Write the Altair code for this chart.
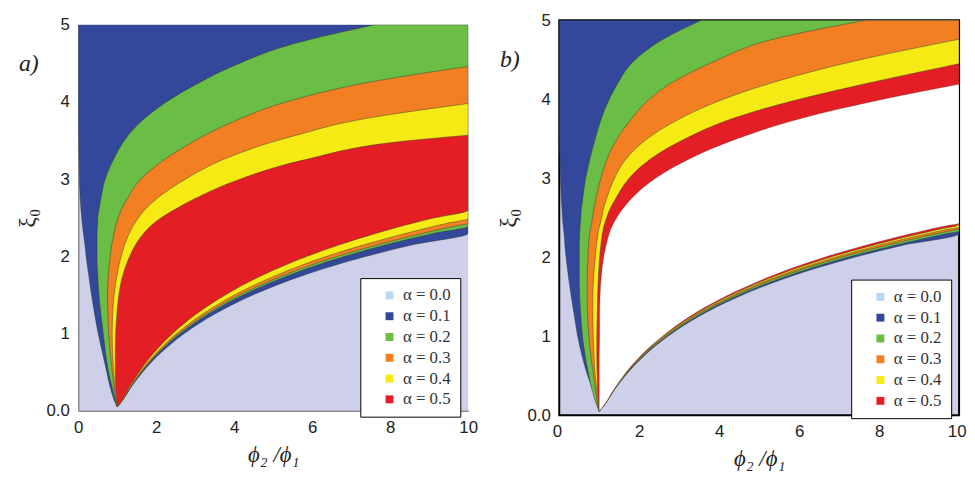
import altair as alt
import pandas as pd

LABELS = ["α = 0.0\u00a0\u00a0", "α = 0.1\u00a0\u00a0", "α = 0.2\u00a0\u00a0",
          "α = 0.3\u00a0\u00a0", "α = 0.4\u00a0\u00a0", "α = 0.5\u00a0\u00a0"]
SWATCH = ["#bdd7ee", "#33479b", "#6abd45", "#f28022", "#f5ea14", "#e31e24"]
LAVENDER = "#cdd0e8"

X_TICKS = [0, 2, 4, 6, 8, 10]
Y_TICKS = [0, 1, 2, 3, 4, 5]

# ---------------- panel a : boundary curves, x (phi2/phi1) at each xi0 level ----------------
Y_A = [0.05, 0.15, 0.3, 0.5, 0.75, 1.0, 1.25, 1.5, 1.75, 2.0, 2.15, 2.3, 2.39, 2.43,
       2.49, 2.6, 2.75, 3.0, 3.25, 3.5, 3.57, 3.75, 3.98, 4.25, 4.46, 4.75, 5.0]
L_A = [1.0, 0.91, 0.82, 0.73, 0.62, 0.51, 0.42, 0.34, 0.27, 0.2, 0.17, 0.13, 0.11, 0.1,
       0.09, 0.07, 0.05, 0.03, 0.02, 0.01, 0.008, 0.0, 0.0, 0.0, 0.0, 0.0, 0.0]
D1_A = [1.0, 1.16, 1.35, 1.65, 2.12, 2.72, 3.49, 4.48, 5.75, 7.39, 8.58, 10, 10, 10,
        10, 10, 10, 10, 10, 10, 10, 10, 10, 10, 10, 10, 10]
U1_A = [1.0, 0.94, 0.87, 0.78, 0.7, 0.64, 0.58, 0.53, 0.5, 0.48, 0.48, 0.48, 0.49, 0.5,
        0.5, 0.53, 0.58, 0.69, 0.9, 1.18, 1.28, 1.62, 2.2, 3.1, 3.95, 5.5, 7.6]
D2_A = [1.0, 1.155, 1.33, 1.62, 2.06, 2.62, 3.33, 4.23, 5.38, 6.84, 7.9, 9.13, 10, 10,
        10, 10, 10, 10, 10, 10, 10, 10, 10, 10, 10, 10, 10]
U2_A = [1.0, 0.96, 0.92, 0.87, 0.82, 0.78, 0.76, 0.75, 0.77, 0.82, 0.86, 0.92, 0.96, 0.98,
        1.02, 1.1, 1.26, 1.6, 2.2, 3.0, 3.25, 4.0, 5.2, 7.4, 10, None, None]
D3_A = [1.0, 1.15, 1.33, 1.61, 2.04, 2.58, 3.27, 4.14, 5.25, 6.65, 7.68, 8.85, 9.63, 10,
        10, 10, 10, 10, 10, 10, 10, 10, 10, 10, 10, 10, 10]
U3_A = [1.0, 0.97, 0.94, 0.91, 0.88, 0.87, 0.88, 0.92, 0.99, 1.1, 1.19, 1.31, 1.4, 1.45,
        1.53, 1.7, 2.02, 2.75, 3.7, 5.1, 5.6, 7.0, 10, None, None, None, None]
D4_A = [1.0, 1.15, 1.32, 1.59, 2.0, 2.52, 3.18, 4.01, 5.06, 6.37, 7.33, 8.42, 9.13, 9.47,
        10, 10, 10, 10, 10, 10, 10, 10, 10, 10, 10, 10, 10]
U4_A = [1.0, 0.98, 0.96, 0.95, 0.95, 0.96, 0.99, 1.04, 1.14, 1.32, 1.47, 1.68, 1.85, 1.94,
        2.1, 2.45, 3.0, 4.15, 5.8, 8.5, 10, None, None, None, None, None, None]
D5_A = [1.0, 1.14, 1.30, 1.56, 1.94, 2.42, 3.02, 3.77, 4.7, 5.87, 6.7, 7.65, 8.28, 8.58,
        9.06, 10, 10, 10, 10, 10, 10, 10, 10, 10, 10, 10, 10]

# ---------------- panel b ----------------
Y_B = [0.05, 0.15, 0.3, 0.5, 0.75, 1.0, 1.25, 1.5, 1.75, 2.0, 2.15, 2.3, 2.33, 2.36,
       2.38, 2.4, 2.43, 2.6, 2.75, 3.0, 3.25, 3.5, 3.75, 4.0, 4.19, 4.45, 4.76, 5.0]
L_B = [1.0, 0.93, 0.85, 0.71, 0.57, 0.46, 0.38, 0.3, 0.23, 0.17, 0.14, 0.12, 0.11, 0.11,
       0.1, 0.1, 0.09, 0.07, 0.05, 0.03, 0.015, 0.0, 0.0, 0.0, 0.0, 0.0, 0.0, 0.0]
D1_B = [1.0, 1.16, 1.35, 1.65, 2.12, 2.72, 3.49, 4.48, 5.75, 7.39, 8.58, 10, 10, 10,
        10, 10, 10, 10, 10, 10, 10, 10, 10, 10, 10, 10, 10, 10]
U1_B = [1.0, 0.92, 0.83, 0.74, 0.65, 0.58, 0.54, 0.51, 0.5, 0.5, 0.5, 0.51, 0.51, 0.52,
        0.52, 0.52, 0.53, 0.55, 0.59, 0.66, 0.77, 0.9, 1.05, 1.25, 1.45, 1.8, 2.6, 3.55]
D2_B = [1.0, 1.16, 1.345, 1.64, 2.10, 2.69, 3.44, 4.40, 5.64, 7.22, 8.38, 9.71, 10, 10,
        10, 10, 10, 10, 10, 10, 10, 10, 10, 10, 10, 10, 10, 10]
U2_B = [1.0, 0.96, 0.91, 0.86, 0.79, 0.74, 0.71, 0.7, 0.7, 0.72, 0.73, 0.76, 0.77, 0.78,
        0.79, 0.8, 0.81, 0.86, 0.92, 1.04, 1.2, 1.45, 1.8, 2.25, 2.75, 3.75, 5.35, 7.67]
D3_B = [1.0, 1.158, 1.34, 1.63, 2.08, 2.66, 3.39, 4.33, 5.52, 7.05, 8.17, 9.45, 9.73, 10,
        10, 10, 10, 10, 10, 10, 10, 10, 10, 10, 10, 10, 10, 10]
U3_B = [1.0, 0.97, 0.94, 0.9, 0.87, 0.85, 0.84, 0.84, 0.86, 0.9, 0.93, 0.97, 0.98, 0.99,
        1.0, 1.01, 1.03, 1.1, 1.19, 1.38, 1.68, 2.2, 3.0, 4.1, 5.2, 7.1, 10, None]
D4_B = [1.0, 1.156, 1.336, 1.62, 2.06, 2.63, 3.35, 4.26, 5.43, 6.91, 7.98, 9.22, 9.49, 9.77,
        10, 10, 10, 10, 10, 10, 10, 10, 10, 10, 10, 10, 10, 10]
U4_B = [1.0, 0.98, 0.96, 0.95, 0.94, 0.94, 0.95, 0.96, 0.98, 1.01, 1.04, 1.08, 1.09, 1.1,
        1.11, 1.12, 1.14, 1.26, 1.42, 1.75, 2.3, 3.15, 4.3, 6.0, 7.6, 10, None, None]
D5_B = [1.0, 1.154, 1.33, 1.61, 2.05, 2.60, 3.31, 4.20, 5.34, 6.78, 7.83, 9.03, 9.29, 9.56,
        9.75, 9.94, 10, 10, 10, 10, 10, 10, 10, 10, 10, 10, 10, 10]
U5_B = [1.0, 1.0, 1.0, 1.0, 1.0, 1.01, 1.01, 1.02, 1.05, 1.11, 1.17, 1.25, 1.27, 1.29,
        1.31, 1.33, 1.36, 1.57, 1.82, 2.41, 3.28, 4.45, 6.0, 8.1, 10, None, None, None]
D6_B = [1.0, 1.152, 1.33, 1.605, 2.03, 2.58, 3.26, 4.14, 5.24, 6.63, 7.64, 8.81, 9.06, 9.32,
        9.5, 9.69, 10, 10, 10, 10, 10, 10, 10, 10, 10, 10, 10, 10]


def band_frame(name, ys, left, right):
    rows = [{"band": name, "y": y, "xl": l, "xr": r}
            for y, l, r in zip(ys, left, right) if l is not None]
    return pd.DataFrame(rows)


def make_panel(ys, bands, white, w, h, tag, leg_x, leg_y, framed):
    color_scale = alt.Scale(domain=LABELS, range=SWATCH)
    legend = alt.Legend(title=None, orient="none", legendX=leg_x, legendY=leg_y,
                        symbolType="square", symbolSize=64, symbolStrokeWidth=0,
                        symbolOpacity=1, symbolOffset=12,
                        labelFont="Liberation Serif", labelFontSize=17, labelColor="#333",
                        labelOffset=5, rowPadding=3, padding=9,
                        strokeColor="black", fillColor="white", cornerRadius=0)
    xaxis = alt.Axis(values=X_TICKS, ticks=False, grid=False,
                     labelFlush=framed, labelFlushOffset=7 if framed else 0,
                     labelFont="Liberation Sans", labelFontSize=17, labelColor="#222",
                     labelPadding=9, domain=not framed, domainColor="#8a8a8a", domainWidth=1.5,
                     title="ϕ₂ /ϕ₁", titleFont="Liberation Serif", titleFontSize=23,
                     titleFontStyle="italic", titleFontWeight="normal", titleColor="#222",
                     titlePadding=8)
    yaxis = alt.Axis(values=Y_TICKS, ticks=False, grid=False, labelFlush=False,
                     labelExpr="datum.value == 0 ? '0.0' : datum.label",
                     labelFont="Liberation Sans", labelFontSize=17, labelColor="#222",
                     labelPadding=9, domain=not framed, domainColor="#8a8a8a", domainWidth=1.5,
                     title="ξ₀", titleFont="Liberation Serif", titleFontSize=24,
                     titleFontWeight="normal", titleColor="#222", titlePadding=7)
    X = alt.X("xl:Q", scale=alt.Scale(domain=[0, 10], nice=False), axis=xaxis, stack=None)
    X2 = alt.X2("xr:Q")
    Y = alt.Y("y:Q", scale=alt.Scale(domain=[0, 5], nice=False, zero=False), axis=yaxis)

    layers = []
    for name, left, right in bands:
        df = band_frame(name, ys, left, right)
        layers.append(
            alt.Chart(df).mark_area(orient="horizontal", clip=True, interpolate="monotone",
                                    stroke="#2f3a33", strokeWidth=0.6, strokeOpacity=0.75)
            .encode(y=Y, x=X, x2=X2,
                    color=alt.Color("band:N", scale=color_scale, legend=legend))
        )
    if white is not None:
        df = band_frame("white", ys, white[0], white[1])
        layers.append(
            alt.Chart(df).mark_area(orient="horizontal", clip=True, interpolate="monotone",
                                    fill="white", stroke="#2f3a33", strokeWidth=0.5,
                                    strokeOpacity=0.5)
            .encode(y=Y, x=X, x2=X2)
        )
    tag_df = pd.DataFrame({"t": [tag]})
    layers.append(
        alt.Chart(tag_df).mark_text(font="Liberation Serif", fontSize=24, fontStyle="italic",
                                    color="#222", align="center", baseline="alphabetic")
        .encode(text="t:N", x=alt.value(-50), y=alt.value(47))
    )
    view = (alt.ViewBackground(fill=LAVENDER, stroke="black", strokeWidth=2) if framed
            else alt.ViewBackground(fill=LAVENDER, strokeWidth=0))
    return alt.layer(*layers).properties(width=w, height=h, view=view)


bands_a = [(LABELS[1], L_A, D1_A), (LABELS[2], U1_A, D2_A), (LABELS[3], U2_A, D3_A),
           (LABELS[4], U3_A, D4_A), (LABELS[5], U4_A, D5_A)]
bands_b = [(LABELS[1], L_B, D1_B), (LABELS[2], U1_B, D2_B), (LABELS[3], U2_B, D3_B),
           (LABELS[4], U3_B, D4_B), (LABELS[5], U4_B, D5_B)]

panel_a = make_panel(Y_A, bands_a, None, 394, 390, "a)", 285, 256, False)
panel_b = make_panel(Y_B, bands_b, (U5_B, D6_B), 404, 399, "b)", 295, 262, True)

chart = (alt.hconcat(panel_a, panel_b, spacing=92, bounds="flush", center=True)
         .resolve_scale(color="independent", x="independent", y="independent")
         .resolve_legend(color="independent")
         .properties(padding={"left": 7, "top": 0, "right": 0, "bottom": 0},
                     background="white"))

chart.save("out.html", embed_options={"renderer": "svg", "actions": False})
